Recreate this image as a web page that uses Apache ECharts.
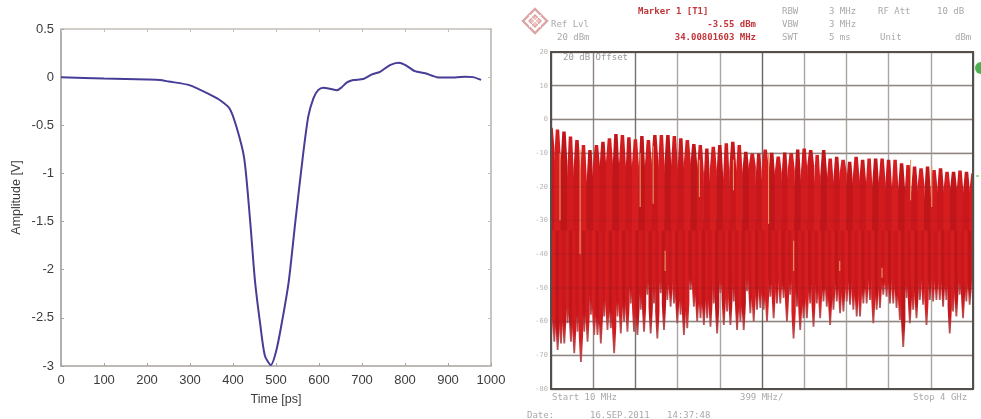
<!DOCTYPE html>
<html><head><meta charset="utf-8">
<style>html,body{margin:0;padding:0;background:#fff}#c{width:981px;height:419px}#c canvas{filter:blur(0.45px)}</style>
<script src="https://cdn.jsdelivr.net/npm/echarts@6/dist/echarts.min.js"></script>
</head><body><div id="c"></div>
<script>
// Left panel: pulse
const timePs = [0,100,200,230,250,300,350,370,392,408,426,440,451,463,474,488,501,516,530,545,562,575,587,598,610,625,642,653,665,680,703,723,742,765,785,800,823,847,874,904,940,958,977];
const amplitudeV = [0,-0.015,-0.025,-0.03,-0.045,-0.085,-0.19,-0.24,-0.325,-0.516,-0.84,-1.5,-2.11,-2.555,-2.89,-2.99,-2.835,-2.49,-2.11,-1.5,-0.84,-0.41,-0.22,-0.135,-0.11,-0.12,-0.135,-0.105,-0.055,-0.03,-0.02,0.028,0.055,0.125,0.15,0.128,0.062,0.04,0,-0.005,0.005,0,-0.028];
// Right panel: spectrum (dBm), upper comb teeth
const toothPeaks = [-2.5,-3,-3.6,-5.1,-6.1,-7.6,-9.1,-7.6,-6.6,-5.6,-4.3,-4.6,-5.3,-5.9,-4.9,-6.1,-4.6,-4.6,-4.6,-4.9,-5.6,-6.1,-7.3,-7.6,-8.6,-8.1,-7.6,-7.1,-6.6,-7.6,-9.6,-10.1,-10.1,-8.9,-9.9,-11,-9.8,-10,-8.9,-8.6,-9.1,-10.6,-9.1,-11.6,-11.1,-12,-12.6,-11.1,-12,-11.6,-11.6,-11.6,-12,-12,-13,-13.5,-14,-14.5,-14,-15,-14.5,-15.5,-15.5,-15.2,-15.5,-16];
const toothNotches = [-9,-13,-14,-18,-15,-19,-20,-14,-15,-13,-16,-14,-17,-14,-17,-14,-13,-16,-14,-15,-17,-13,-14,-16,-21,-15,-18,-20,-15,-17,-16,-14,-20,-15,-18,-16,-19,-15,-20,-17,-14,-21,-17,-19,-19,-16,-20,-18,-19,-21,-20,-19,-21,-22,-21,-23,-22,-20,-24,-21,-22,-21,-21,-22,-22,-21];
// lower spikes
const spikeLows = [-65,-66,-68.4,-66.5,-66.5,-60.5,-66,-69.4,-63,-72,-63,-66,-58,-64,-64,-66.5,-58.5,-62.5,-62,-69.4,-58.5,-63.5,-60,-63,-54.6,-63,-64,-56.5,-63,-52,-63.5,-54.6,-65,-51.6,-62.5,-53.6,-55.6,-54.6,-60.5,-58,-64,-62,-50.6,-55.6,-60,-59,-61,-59,-61.5,-54.6,-63.5,-51.6,-61,-57,-61,-54,-62.5,-60,-62.5,-51,-57.5,-60,-56.5,-56,-56.5,-60,-52.6,-59,-54.6,-54.6,-53,-60,-52,-65,-55.6,-62.5,-59,-59,-54.6,-61.5,-54.6,-59,-54,-55.6,-61,-56.5,-54,-57.5,-57,-54,-55,-56.5,-58.5,-58.5,-54.6,-54.6,-53.6,-60.5,-56.5,-56,-52,-52.6,-54.6,-54.6,-56,-59.5,-67.5,-53,-60.5,-56.5,-59,-53.6,-55,-61,-53.6,-54,-53.6,-53.6,-55.6,-53.6,-63.5,-57,-58.5,-52,-59,-54,-55,-54];
// pale streaks: frequency offset (MHz), top and bottom level (dBm)
const streakOffsetMHz = [85,275,843,966,1079,1403,1725,2057,2294,2730,3130,3400,3600];
const streakTops = [-10,-9,-10,-8,-39,-12,-12,-10,-36,-42,-44,-12,-14];
const streakBottoms = [-30,-40,-26,-25,-45,-23,-21,-31,-45,-45,-47,-24,-26];
const xTicksPs = 1000, spanMHz = 3990, divMHz = 399;
const dBTicks = [10,0,-10,-20,-30,-40,-50,-60,-70];

const toothStep = spanMHz/(toothPeaks.length-1);
const spikeStep = spanMHz/(spikeLows.length-1);
const reds = ['#c9171c','#d61e20','#c0161a','#d21b1e'];
const txt = (x,y,s,fill,align,bold)=>({type:'text',x,y,silent:true,style:{text:s,fill:fill||'#a9a9a9',font:(bold?'bold ':'')+'9px "DejaVu Sans Mono"',align:align||'left',verticalAlign:'middle'}});
const red = '#c0363a';

const chart = echarts.init(document.getElementById('c'),null,{renderer:'canvas'});
chart.setOption({
 animation:false,
 grid:[{left:61,top:29,width:430,height:337,show:false},{left:551,top:52,width:422,height:337,show:false}],
 xAxis:[
  {gridIndex:0,type:'value',min:0,max:xTicksPs,interval:100,position:'bottom',name:'Time [ps]',nameLocation:'middle',nameGap:27,
   nameTextStyle:{color:'#3c3c3c',fontSize:12.5,fontFamily:'Liberation Sans'},
   axisLine:{onZero:false,lineStyle:{color:'#a8a29e',width:1.5}},axisTick:{inside:true,length:3,lineStyle:{color:'#a8a29e'}},
   axisLabel:{color:'#3c3c3c',fontSize:13,fontFamily:'Liberation Sans',margin:8,showMaxLabel:true,hideOverlap:false,formatter:v=>String(v)},splitLine:{show:false}},
  {gridIndex:0,type:'value',min:0,max:xTicksPs,interval:100,position:'top',axisLine:{onZero:false,lineStyle:{color:'#c4beb9',width:1.5}},axisTick:{inside:true,length:3,lineStyle:{color:'#c4beb9'}},axisLabel:{show:false},splitLine:{show:false}},
  {gridIndex:1,type:'value',min:0,max:spanMHz,interval:divMHz,axisLine:{show:false},axisTick:{show:false},axisLabel:{show:false},
   splitLine:{show:true,lineStyle:{width:1.4,color:['#555','#8a8580','#77726e','#aaa5a0','#aaa5a0','#6b6661','#aaa5a0','#aaa5a0','#aaa5a0','#aaa5a0','#555']}}}
 ],
 yAxis:[
  {gridIndex:0,type:'value',min:-3,max:0.5,interval:0.5,name:'Amplitude [V]',nameLocation:'middle',nameGap:38,
   nameTextStyle:{color:'#3c3c3c',fontSize:12.5,fontFamily:'Liberation Sans'},
   axisLine:{onZero:false,lineStyle:{color:'#9a9490',width:1.5}},axisTick:{inside:true,length:3,lineStyle:{color:'#a8a29e'}},
   axisLabel:{color:'#3c3c3c',fontSize:13,fontFamily:'Liberation Sans',margin:7,formatter:v=>String(v)},splitLine:{show:false}},
  {gridIndex:0,type:'value',min:-3,max:0.5,interval:0.5,position:'right',axisLine:{onZero:false,lineStyle:{color:'#b8b2ad',width:1.5}},axisTick:{inside:true,length:3,lineStyle:{color:'#c4beb9'}},axisLabel:{show:false},splitLine:{show:false}},
  {gridIndex:1,type:'value',min:-80,max:20,interval:10,axisLine:{show:false},axisTick:{show:false},
   axisLabel:{color:'#b4b4b4',fontSize:7,fontFamily:'DejaVu Sans Mono',margin:3},
   splitLine:{show:true,lineStyle:{width:1.4,color:'#98938e'}}}
 ],
 series:[
  {type:'line',xAxisIndex:0,yAxisIndex:0,data:timePs.map((t,i)=>[t,amplitudeV[i]]),showSymbol:false,smooth:0.25,lineStyle:{color:'#463d97',width:2}},
  {type:'custom',coordinateSystem:'cartesian2d',xAxisIndex:2,yAxisIndex:2,clip:true,z:3,
   data:spikeLows.map((v,i)=>[i*spikeStep,v]),
   renderItem(p,api){
    const x=api.value(0),low=api.value(1),w=api.size([spikeStep,0])[0]+1;
    const a=api.coord([x,-30]),m=api.coord([x,Math.min(-46,low+8)]),b=api.coord([x,low]);
    return {type:'polygon',shape:{points:[[a[0]-w/2,a[1]],[a[0]+w/2,a[1]],[a[0]+w/2,m[1]],[a[0]+.9,b[1]],[a[0]-.9,b[1]],[a[0]-w/2,m[1]]]},
     style:{fill:{type:'linear',x:0,y:0,x2:0,y2:1,colorStops:[{offset:0,color:reds[p.dataIndex%4]},{offset:.84,color:reds[p.dataIndex%4]},{offset:1,color:'#b45a5c'}]}}};
   }},
  {type:'custom',coordinateSystem:'cartesian2d',xAxisIndex:2,yAxisIndex:2,clip:true,z:4,
   data:toothPeaks.map((v,i)=>[i*toothStep,v,toothNotches[i]]),
   renderItem(p,api){
    const x=api.value(0),w=api.size([toothStep,0])[0]/2+0.3;
    const t=api.coord([x,api.value(1)]),n=api.coord([x,api.value(2)]),b=api.coord([x,-33]);
    return {type:'polygon',shape:{points:[[t[0]-1.7,t[1]],[t[0]+1.7,t[1]],[t[0]+w,n[1]],[t[0]+w,b[1]],[t[0]-w,b[1]],[t[0]-w,n[1]]]},
     style:{fill:reds[p.dataIndex%4]}};
   }},
  {type:'custom',coordinateSystem:'cartesian2d',xAxisIndex:2,yAxisIndex:2,clip:true,z:5,
   data:streakOffsetMHz.map((x,i)=>[x,streakTops[i],streakBottoms[i]]),
   renderItem(p,api){
    const a=api.coord([api.value(0),api.value(1)]),b=api.coord([api.value(0),api.value(2)]);
    return {type:'line',shape:{x1:a[0],y1:a[1],x2:b[0],y2:b[1]},style:{stroke:'#eb9a63',lineWidth:1.1}};
   }},
  {type:'custom',coordinateSystem:'cartesian2d',xAxisIndex:2,yAxisIndex:2,clip:true,z:6,silent:true,
   data:dBTicks.map(v=>[v]),
   renderItem(p,api){
    const a=api.coord([0,api.value(0)]),b=api.coord([spanMHz,api.value(0)]);
    return {type:'line',shape:{x1:a[0],y1:a[1],x2:b[0],y2:b[1]},style:{stroke:'rgba(90,40,40,0.14)',lineWidth:1.6}};
   }}
 ],
 graphic:[
  {type:'rect',shape:{x:551,y:52,width:422,height:337},z:20,silent:true,style:{fill:'none',stroke:'#544f4b',lineWidth:2}},
  {type:'polygon',shape:{points:[[535,9],[547,21],[535,33],[523,21]]},z:20,silent:true,style:{fill:'none',stroke:'#dba5a5',lineWidth:2.4}},
  {type:'polygon',shape:{points:[[535,15],[541,21],[535,27],[529,21]]},z:20,silent:true,style:{fill:'#eec4c4',stroke:'#dba5a5',lineWidth:1.4}},
  {type:'line',shape:{x1:529,y1:15,x2:541,y2:27},z:20,silent:true,style:{stroke:'#fff',lineWidth:1}},
  {type:'line',shape:{x1:541,y1:15,x2:529,y2:27},z:20,silent:true,style:{stroke:'#fff',lineWidth:1}},
  {type:'circle',shape:{cx:981,cy:68,r:6},z:20,silent:true,style:{fill:'#4cb050'}},
  {type:'rect',shape:{x:976,y:175,width:3,height:2},z:20,silent:true,style:{fill:'#a8d8a8'}},
  txt(638,12,'Marker 1 [T1]',red,'left',true),
  txt(551,25,'Ref Lvl'),txt(557,38,'20 dBm'),
  txt(756,25,'-3.55 dBm',red,'right',true),txt(756,38,'34.00801603 MHz',red,'right',true),
  txt(782,12,'RBW'),txt(829,12,'3 MHz'),txt(878,12,'RF Att'),txt(937,12,'10 dB'),
  txt(782,25,'VBW'),txt(829,25,'3 MHz'),
  txt(782,38,'SWT'),txt(829,38,'5 ms'),txt(880,38,'Unit'),txt(955,38,'dBm'),
  txt(563,58,'20 dB Offset','#999'),
  txt(552,398,'Start 10 MHz'),txt(740,398,'399 MHz/'),txt(913,398,'Stop 4 GHz'),
  txt(527,416,'Date:'),txt(590,416,'16.SEP.2011'),txt(667,416,'14:37:48')
 ]
});
</script></body></html>
